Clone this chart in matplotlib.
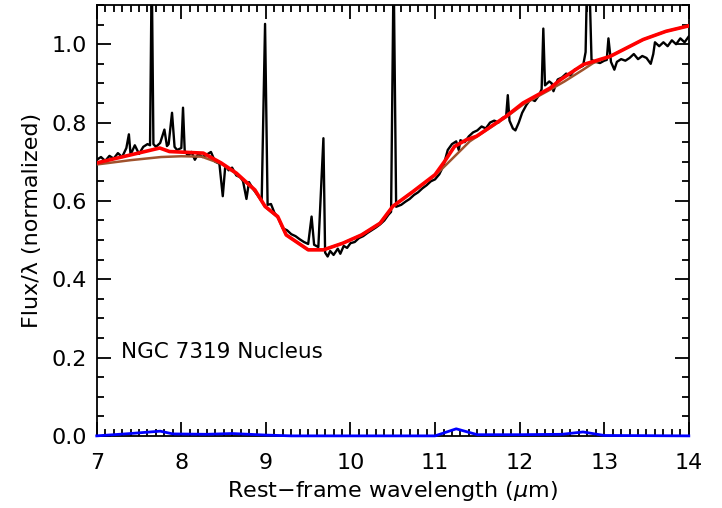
import matplotlib
matplotlib.use("Agg")
import matplotlib.pyplot as plt
from matplotlib.ticker import MultipleLocator

plt.rcParams['font.family'] = ['DejaVu Sans']

wav_obs = [7.00, 7.05, 7.10, 7.15, 7.20, 7.25, 7.30, 7.35, 7.38, 7.40, 7.45, 7.50, 7.55, 7.60,
           7.63, 7.65, 7.67, 7.70, 7.75, 7.80, 7.83, 7.85, 7.89, 7.92, 7.95, 8.00, 8.02, 8.04,
           8.08, 8.12, 8.16, 8.20, 8.25, 8.30, 8.35, 8.40, 8.45, 8.49, 8.52, 8.56, 8.60, 8.65,
           8.70, 8.73, 8.77, 8.80, 8.85, 8.90, 8.95, 8.99, 9.02, 9.06, 9.10, 9.15, 9.20, 9.25,
           9.30, 9.35, 9.40, 9.45, 9.50, 9.54, 9.57, 9.62, 9.68, 9.70, 9.73, 9.76, 9.80, 9.85,
           9.88, 9.92, 9.96, 10.00, 10.05, 10.10, 10.15, 10.20, 10.25, 10.30, 10.35, 10.40,
           10.45, 10.48, 10.51, 10.54, 10.60, 10.65, 10.70, 10.75, 10.80, 10.85, 10.90, 10.95,
           11.00, 11.05, 11.10, 11.15, 11.20, 11.25, 11.28, 11.30, 11.35, 11.40, 11.45, 11.50,
           11.55, 11.60, 11.65, 11.70, 11.75, 11.80, 11.84, 11.86, 11.88, 11.92, 11.95, 11.99,
           12.03, 12.08, 12.13, 12.18, 12.23, 12.26, 12.28, 12.30, 12.35, 12.38, 12.40, 12.45,
           12.50, 12.55, 12.60, 12.65, 12.70, 12.75, 12.78, 12.80, 12.82, 12.85, 12.90, 12.95,
           13.00, 13.03, 13.05, 13.08, 13.12, 13.15, 13.20, 13.25, 13.30, 13.35, 13.40, 13.45,
           13.50, 13.55, 13.58, 13.60, 13.65, 13.70, 13.75, 13.80, 13.85, 13.90, 13.95, 14.00]
flux_obs = [0.705, 0.712, 0.702, 0.715, 0.708, 0.722, 0.712, 0.735, 0.770, 0.718, 0.742, 0.720, 0.738, 0.745,
            0.742, 1.200, 0.745, 0.738, 0.748, 0.782, 0.740, 0.745, 0.825, 0.738, 0.730, 0.735, 0.838, 0.728,
            0.715, 0.725, 0.705, 0.720, 0.712, 0.718, 0.725, 0.700, 0.695, 0.612, 0.690, 0.678, 0.685, 0.665,
            0.660, 0.650, 0.605, 0.648, 0.630, 0.615, 0.600, 1.052, 0.590, 0.592, 0.570, 0.555, 0.530, 0.525,
            0.515, 0.510, 0.502, 0.495, 0.490, 0.560, 0.488, 0.482, 0.760, 0.468, 0.458, 0.472, 0.462, 0.478,
            0.465, 0.485, 0.480, 0.492, 0.495, 0.505, 0.510, 0.518, 0.525, 0.532, 0.540, 0.550,
            0.565, 0.572, 1.200, 0.585, 0.590, 0.598, 0.605, 0.615, 0.622, 0.632, 0.640, 0.650,
            0.655, 0.668, 0.690, 0.730, 0.745, 0.752, 0.730, 0.755, 0.750, 0.765, 0.775, 0.780,
            0.790, 0.785, 0.800, 0.805, 0.800, 0.812, 0.815, 0.870, 0.805, 0.785, 0.780, 0.800,
            0.825, 0.845, 0.860, 0.855, 0.870, 0.885, 1.040, 0.895, 0.905, 0.900, 0.880, 0.910,
            0.915, 0.925, 0.920, 0.935, 0.940, 0.945, 0.980, 1.200, 1.200, 0.960, 0.955, 0.952,
            0.958, 0.960, 1.015, 0.955, 0.935, 0.955, 0.962, 0.958, 0.965, 0.975, 0.962, 0.970,
            0.965, 0.950, 0.975, 1.005, 0.995, 1.005, 0.995, 1.010, 1.000, 1.015, 1.005, 1.020]

# full model fit (red)
wav_fit = [7.00, 7.745, 7.86, 8.26, 8.47, 8.65, 8.87, 8.99, 9.14, 9.24, 9.50, 9.68, 9.91, 10.13,
           10.35, 10.50, 10.74, 11.00, 11.11, 11.23, 11.37, 11.49, 11.84, 12.04, 12.36, 12.48,
           12.75, 13.07, 13.46, 13.73, 14.00]
flux_fit = [0.697, 0.735, 0.726, 0.722, 0.697, 0.671, 0.628, 0.586, 0.560, 0.513, 0.475, 0.475,
            0.492, 0.513, 0.543, 0.586, 0.624, 0.667, 0.700, 0.739, 0.756, 0.765, 0.816, 0.850,
            0.888, 0.909, 0.948, 0.969, 1.012, 1.033, 1.047]

# continuum (brown)
wav_cont = [7.00, 7.40, 7.76, 8.00, 8.24, 8.47, 8.65, 8.87, 8.99, 9.14, 9.24, 9.50, 9.68, 9.91,
            10.13, 10.35, 10.50, 10.74, 11.00, 11.13, 11.41, 11.84, 12.04, 12.36, 12.53, 12.75,
            12.87, 13.07, 13.46, 13.73, 14.00]
flux_cont = [0.693, 0.704, 0.712, 0.714, 0.713, 0.695, 0.669, 0.626, 0.585, 0.558, 0.513, 0.475,
             0.475, 0.492, 0.513, 0.543, 0.586, 0.624, 0.665, 0.692, 0.752, 0.814, 0.846, 0.884,
             0.905, 0.935, 0.952, 0.969, 1.012, 1.033, 1.047]

# PAH features (blue)
wav_pah = [7.00, 7.40, 7.75, 7.90, 8.30, 8.60, 9.00, 9.30, 11.00, 11.25, 11.50, 12.00, 12.50,
           12.75, 13.00, 14.00]
flux_pah = [0.000, 0.006, 0.012, 0.005, 0.004, 0.006, 0.002, 0.000, 0.000, 0.018, 0.003, 0.003,
            0.004, 0.010, 0.001, 0.000]

fig = plt.figure(figsize=(7.22, 5.08), dpi=100)
ax = fig.add_axes([0.134, 0.142, 0.820, 0.848])

ax.plot(wav_obs, flux_obs, color='black', lw=1.7, zorder=2)
ax.plot(wav_cont, flux_cont, color='#a0522d', lw=1.8, zorder=3)
ax.plot(wav_fit, flux_fit, color='red', lw=2.6, zorder=4)
ax.plot(wav_pah, flux_pah, color='blue', lw=2.0, zorder=5, clip_on=False)

ax.set_xlim(7, 14)
ax.set_ylim(0, 1.1)
ax.xaxis.set_major_locator(MultipleLocator(1))
ax.xaxis.set_minor_locator(MultipleLocator(0.1))
ax.yaxis.set_major_locator(MultipleLocator(0.2))
ax.yaxis.set_minor_locator(MultipleLocator(0.05))
ax.yaxis.set_major_formatter(plt.FormatStrFormatter('%.1f'))
ax.tick_params(which='both', direction='in', top=True, right=True, labelsize=16, width=1.3)
ax.tick_params(axis='x', which='major', length=10, pad=12)
ax.tick_params(axis='y', which='major', length=10, pad=7)
ax.tick_params(which='minor', length=5)
for s in ax.spines.values():
    s.set_linewidth(1.3)

ax.text(7.29, 0.215, 'NGC 7319 Nucleus', fontsize=15.5, va='center')
ax.set_xlabel('Rest\u2212frame wavelength ($\\mu$m)', fontsize=16, labelpad=5)
ax.set_ylabel('Flux/\u03bb (normalized)', fontsize=16, labelpad=7)

fig.savefig('out.png', dpi=100)
